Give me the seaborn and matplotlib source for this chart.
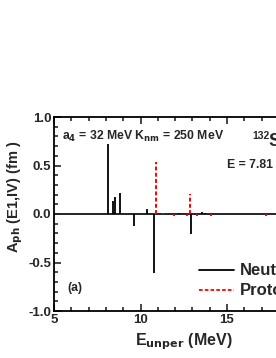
import numpy as np
import pandas as pd
import seaborn as sns
import matplotlib.pyplot as plt
from matplotlib.lines import Line2D
from matplotlib.ticker import MultipleLocator, FormatStrFormatter

# unperturbed energies (MeV) and amplitudes
neutron_e = [8.10, 8.39, 8.50, 8.81, 9.60, 10.38, 10.78, 12.24, 12.90, 13.54, 13.75]
neutron_a = [0.72, 0.13, 0.18, 0.22, -0.12, 0.05, -0.61, 0.01, -0.21, 0.02, 0.01]
proton_e = [10.91, 11.32, 11.94, 12.70, 12.86, 13.25, 14.06, 17.25]
proton_a = [0.54, 0.01, -0.02, -0.02, 0.21, -0.02, -0.02, -0.02]

data = pd.DataFrame({'E': neutron_e + proton_e,
                     'A': neutron_a + proton_a,
                     'kind': ['Neutron'] * len(neutron_e) + ['Proton'] * len(proton_e)})

sns.set_style('ticks')
plt.rcParams['font.family'] = ['Liberation Sans', 'DejaVu Sans']
plt.rcParams['font.weight'] = 'bold'

fig = plt.figure(figsize=(2.76, 3.58), dpi=100)
# axes run past the right edge, the original figure is cropped
ax = fig.add_axes([54 / 276, 47 / 358, 259.5 / 276, 194 / 358])

neut = data[data['kind'] == 'Neutron']
prot = data[data['kind'] == 'Proton']
ax.vlines(neut['E'], 0, neut['A'], color='black', lw=1.3)
ax.vlines(prot['E'], 0, prot['A'], color='red', lw=1.4, linestyles=(0, (2, 1.2)))
ax.axhline(0, color='black', lw=1.2, zorder=0)

ax.set_xlim(5, 20)
ax.set_ylim(-1.0, 1.0)
ax.xaxis.set_major_locator(MultipleLocator(5))
ax.xaxis.set_minor_locator(MultipleLocator(1))
ax.yaxis.set_major_locator(MultipleLocator(0.5))
ax.yaxis.set_minor_locator(MultipleLocator(0.1))
ax.yaxis.set_major_formatter(FormatStrFormatter('%.1f'))
ax.tick_params(which='both', direction='in', top=True, right=True, width=1.2, labelsize=9.5)
ax.tick_params(which='major', length=5, pad=2)
ax.tick_params(which='minor', length=3)
for lab in ax.get_xticklabels() + ax.get_yticklabels():
    lab.set_fontweight('bold')
for s in ax.spines.values():
    s.set_linewidth(1.3)
    s.set_color('black')

ax.set_xlabel(r'E$_{\mathbf{unper}}$ (MeV)', fontsize=11.5, fontweight='bold', labelpad=4)
ax.set_ylabel(r'A$_{\mathbf{ph}}$ (E1,IV) (fm )', fontsize=10.5, fontweight='bold')
ax.yaxis.set_label_coords(-0.11, 0.59)

ax.text(0.03, 0.90, r'a$_{\mathbf{4}}$ = 32 MeV K$_{\mathbf{nm}}$ = 250 MeV',
        transform=ax.transAxes, fontsize=8.8, fontweight='bold', va='center')
ax.text(0.763, 0.90, '132', transform=ax.transAxes,
        fontsize=7.5, fontweight='bold', va='center')
ax.text(0.825, 0.875, 'Sn', transform=ax.transAxes,
        fontsize=13, fontweight='bold', va='center')
ax.text(0.667, 0.75, 'E = 7.81 MeV', transform=ax.transAxes,
        fontsize=8.8, fontweight='bold', va='center')
ax.text(0.05, 0.12, '(a)', transform=ax.transAxes, fontsize=8.8, fontweight='bold', va='center')

handles = [Line2D([], [], color='black', lw=1.3),
           Line2D([], [], color='red', lw=1.3, ls=(0, (2, 1.2)))]
ax.legend(handles, ['Neutron', 'Proton'], loc='center left',
          bbox_to_anchor=(0.5, 0.155), frameon=False, handlelength=2.1,
          prop={'size': 12, 'weight': 'bold'}, labelspacing=0.3, handletextpad=0.35)

fig.savefig('out.png', dpi=100)
